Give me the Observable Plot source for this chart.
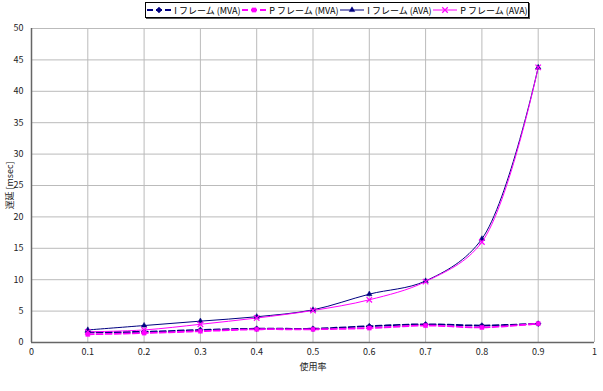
<!DOCTYPE html>
<html><head><meta charset="utf-8">
<script src="https://cdn.jsdelivr.net/npm/d3@7"></script>
<script src="https://cdn.jsdelivr.net/npm/@observablehq/plot@0.6"></script>
<style>
body{margin:0;background:#fff;font-family:"Noto Sans CJK JP",sans-serif;}
#legend{height:20px;position:relative;}
#legend .box{position:absolute;left:145px;top:2px;width:382px;height:14px;border:1px solid #000;box-shadow:1px 1px 0 #555;display:flex;align-items:center;justify-content:space-around;font-size:9px;color:#000;background:#fff;}
#legend .item{display:flex;align-items:center;gap:2px;white-space:nowrap;}
</style></head><body>
<div id="legend"><div class="box"></div></div>
<div id="chart"></div>
<script>
const usage = [0.1,0.2,0.3,0.4,0.5,0.6,0.7,0.8,0.9];
const seriesNames = ["I フレーム (MVA)","P フレーム (MVA)","I フレーム (AVA)","P フレーム (AVA)"];
const iMVA = [1.6,1.7,2.0,2.2,2.2,2.6,2.9,2.7,3.0];
const pMVA = [1.3,1.5,1.8,2.1,2.1,2.3,2.7,2.4,3.0];
const iAVA = [2.0,2.7,3.4,4.1,5.2,7.7,9.8,16.5,43.8];
const pAVA = [1.7,2.0,2.9,3.9,5.1,6.8,9.7,16.0,43.8];
const xTicks = [0,0.1,0.2,0.3,0.4,0.5,0.6,0.7,0.8,0.9,1];
const yTicks = [0,5,10,15,20,25,30,35,40,45,50];

const styles = [
  {color:"#000080", dash:"6,3", width:1.8, symbol:"diamond2", r:2.6},
  {color:"#ff00ff", dash:"6,3", width:1.8, symbol:"square2", r:2.6},
  {color:"#000080", dash:null, width:1, symbol:"triangle2", r:2.6},
  {color:"#ff00ff", dash:null, width:1, symbol:"times", r:2.6}
];
const allVals = [iMVA,pMVA,iAVA,pAVA];
const data = [];
allVals.forEach((vals,si)=>vals.forEach((v,i)=>data.push({s:seriesNames[si], x:usage[i], y:v})));

const marks = [
  Plot.ruleX(xTicks.slice(1), {stroke:"#bbb", strokeWidth:1}),
  Plot.ruleY(yTicks.slice(1), {stroke:"#bbb", strokeWidth:1}),
];
seriesNames.forEach((name,si)=>{
  const st = styles[si];
  const d = data.filter(e=>e.s===name);
  marks.push(Plot.line(d,{x:"x",y:"y",stroke:st.color,strokeWidth:st.width,strokeDasharray:st.dash,curve:"catmull-rom"}));
});
seriesNames.forEach((name,si)=>{
  const st = styles[si];
  const d = data.filter(e=>e.s===name);
  marks.push(Plot.dot(d,{x:"x",y:"y",symbol:()=>st.symbol,fill:st.symbol==="times"?"none":st.color,stroke:st.color,strokeWidth:st.symbol==="times"?1.2:0.5,r:st.r}));
});
marks.push(Plot.ruleX([0],{stroke:"#666",strokeWidth:1.5}));
marks.push(Plot.ruleY([0],{stroke:"#666",strokeWidth:1.5}));
marks.push(Plot.axisX({ticks:xTicks, tickSize:0, tickPadding:6, fontSize:9, label:"使用率", labelAnchor:"center", labelArrow:"none", labelOffset:27, tickFormat:d=>String(d)}));
marks.push(Plot.axisY({ticks:yTicks, tickSize:0, tickPadding:8, fontSize:9, label:"遅延 [msec]", labelAnchor:"center", labelArrow:"none", labelOffset:25}));

const chart = Plot.plot({
  width:603, height:371,
  marginTop:8, marginBottom:49, marginLeft:31, marginRight:9,
  x:{domain:[0,1]},
  y:{domain:[0,50]},
  style:{fontFamily:"'Noto Sans CJK JP', sans-serif", fontSize:"9px", color:"#222"},
  marks
});
document.getElementById("chart").appendChild(chart);

// legend
const box = document.querySelector("#legend .box");
seriesNames.forEach((name,si)=>{
  const st = styles[si];
  const item = document.createElement("div");
  item.className="item";
  const sym = d3.symbol(d3[{diamond2:"symbolDiamond2",square2:"symbolSquare2",triangle2:"symbolTriangle2",times:"symbolTimes"}[st.symbol]], 22)();
  item.innerHTML = `<svg width="26" height="10"><line x1="1" x2="25" y1="5" y2="5" stroke="${st.color}" stroke-width="${st.width}" ${st.dash?`stroke-dasharray="${st.dash}"`:""}/><path transform="translate(13,5)" d="${sym}" fill="${st.symbol==="times"?"none":st.color}" stroke="${st.color}" stroke-width="${st.symbol==="times"?1.2:0.5}"/></svg><span>${name}</span>`;
  box.appendChild(item);
});
</script>
</body></html>
